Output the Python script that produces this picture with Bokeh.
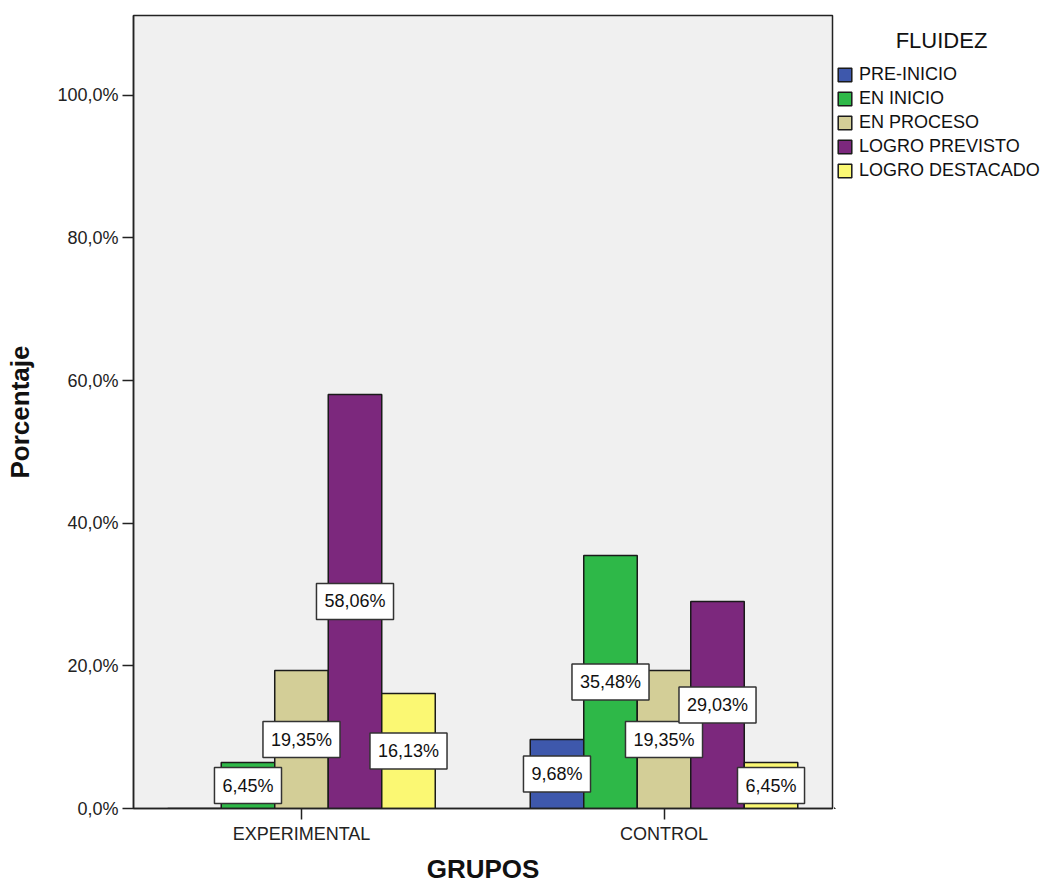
from bokeh.plotting import figure
from bokeh.layouts import row
from bokeh.models import (Range1d, FixedTicker, ColumnDataSource, Legend, LegendItem, Label)
from bokeh.core.properties import value
from bokeh.embed import file_html
from bokeh.resources import INLINE

# ---------------- data ----------------
groups = ["EXPERIMENTAL", "CONTROL"]
levels = ["PRE-INICIO", "EN INICIO", "EN PROCESO", "LOGRO PREVISTO", "LOGRO DESTACADO"]
experimental = [0.0, 6.45, 19.35, 58.06, 16.13]
control = [9.68, 35.48, 19.35, 29.03, 6.45]
colors = ["#3E58AC", "#2EB848", "#D3CE97", "#7C287D", "#FBF873"]
y_ticks = [0, 20, 40, 60, 80, 100]
y_tick_labels = ["0,0%", "20,0%", "40,0%", "60,0%", "80,0%", "100,0%"]
legend_title = "FLUIDEZ"
x_title = "GRUPOS"
y_title = "Porcentaje"

FONT = "Liberation Sans"
bar_w = 0.1476
FRAME_H = 793

p = figure(frame_width=699, frame_height=FRAME_H, output_backend="svg", toolbar_location=None,
           x_range=Range1d(0.5366, 2.4648), y_range=Range1d(0, 111.2),
           min_border_left=133, min_border_right=2, min_border_top=15, min_border_bottom=78)
p.background_fill_color = "#F0F0F0"
p.border_fill_color = "white"
p.outline_line_color = "#222222"
p.outline_line_width = 1.5
p.xgrid.visible = False
p.ygrid.visible = False

series = [experimental, control]
group_pos = [i + 1 for i in range(len(groups))]

sources = []
lab_x, lab_y, lab_t = [], [], []
for j, lev in enumerate(levels):
    xs = [g + (j - 2) * bar_w for g in group_pos]
    tops = [series[i][j] for i in range(len(groups))]
    src = ColumnDataSource(dict(x=xs, top=tops))
    sources.append(src)
    p.vbar(x="x", top="top", width=bar_w, bottom=0, source=src,
           fill_color=colors[j], line_color="#1a1a1a", line_width=1.5)
    for xx, tt in zip(xs, tops):
        if tt > 0:
            lab_x.append(xx)
            lab_y.append(tt / 2)
            lab_t.append(("%.2f" % tt).replace(".", ",") + "%")

lsrc = ColumnDataSource(dict(x=lab_x, y=lab_y, t=lab_t))
p.text(x="x", y="y", text="t", source=lsrc, text_align="center",
       text_baseline="middle", text_font=value(FONT), text_font_size="18px",
       text_color="#111111", background_fill_color="white",
       border_line_color="#333333", border_line_width=1.5, padding=8)

# axes
p.yaxis.ticker = FixedTicker(ticks=y_ticks)
p.yaxis.major_label_overrides = {t: l for t, l in zip(y_ticks, y_tick_labels)}
p.xaxis.ticker = FixedTicker(ticks=group_pos)
p.xaxis.major_label_overrides = {g: n for g, n in zip(group_pos, groups)}
for ax in (p.xaxis, p.yaxis):
    ax.major_tick_out = 11
    ax.major_tick_in = 0
    ax.minor_tick_line_color = None
    ax.major_tick_line_color = "#222222"
    ax.major_tick_line_width = 1.5
    ax.axis_line_color = "#222222"
    ax.axis_line_width = 1.5
    ax.major_label_text_font = FONT
    ax.major_label_text_font_size = "18px"
    ax.major_label_text_color = "#222222"
    ax.axis_label_text_font = FONT
    ax.axis_label_text_font_size = "26px"
    ax.axis_label_text_font_style = "bold"
    ax.axis_label_text_color = "#111111"
p.yaxis.major_label_standoff = 4
p.xaxis.major_label_standoff = 4
p.xaxis.axis_label = x_title
p.yaxis.axis_label = y_title
p.yaxis.axis_label_standoff = 19
p.xaxis.axis_label_standoff = 7

# ---------------- legend panel (separate figure on the right) ----------------
# same data sources, but the view ranges are far away so that only the legend shows
q = figure(frame_width=210, frame_height=FRAME_H, output_backend="svg", toolbar_location=None,
           x_axis_type=None, y_axis_type=None,
           x_range=Range1d(100, 101), y_range=Range1d(1000, 1001),
           min_border_left=0, min_border_right=0, min_border_top=15, min_border_bottom=78)
q.outline_line_color = None
q.background_fill_color = "white"
q.border_fill_color = "white"
q.xgrid.visible = False
q.ygrid.visible = False

leg_renderers = []
for j, lev in enumerate(levels):
    r = q.vbar(x="x", top="top", width=bar_w, bottom=0, source=sources[j],
               fill_color=colors[j], line_color="#1a1a1a", line_width=1.5)
    leg_renderers.append(r)

items = [LegendItem(label=lev, renderers=[r]) for lev, r in zip(levels, leg_renderers)]
legend = Legend(items=items, location=(2, FRAME_H + 15 - 181), glyph_width=17, glyph_height=17,
                spacing=3, label_standoff=6, label_text_font=FONT,
                label_text_font_size="18px", label_text_color="#111111",
                label_height=17, padding=0, margin=0,
                border_line_alpha=0, background_fill_alpha=0)
q.add_layout(legend)

title_lab = Label(x=107, y=FRAME_H + 15 - 40, x_units="screen", y_units="screen",
                  text=legend_title, text_align="center", text_baseline="middle",
                  text_font=FONT, text_font_size="22px", text_color="#111111")
q.add_layout(title_lab)

layout = row(p, q, spacing=0)
open("out.html", "w").write(file_html(layout, INLINE))
